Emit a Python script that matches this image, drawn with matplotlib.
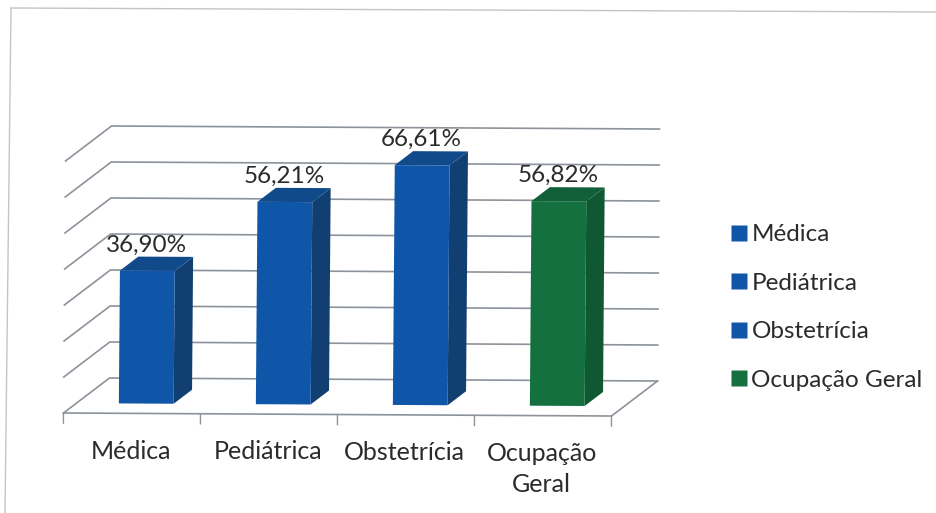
import numpy as np
import matplotlib
matplotlib.use('Agg')
import matplotlib.pyplot as plt
from matplotlib.patches import Polygon
from matplotlib.lines import Line2D

plt.rcParams['font.family'] = ['Lato', 'DejaVu Sans']

categories = ['Médica', 'Pediátrica', 'Obstetrícia', 'Ocupação\nGeral']
legend_labels = ['Médica', 'Pediátrica', 'Obstetrícia', 'Ocupação Geral']
values = [36.90, 56.21, 66.61, 56.82]
value_labels = ['36,90%', '56,21%', '66,61%', '56,82%']
grid_levels = [0, 10, 20, 30, 40, 50, 60, 70]

front_colors = ['#0f56a9', '#0f56a9', '#0f56a9', '#14713f']
side_colors = ['#123f72', '#123f72', '#123f72', '#0f5832']
top_colors = ['#114a8b', '#114a8b', '#114a8b', '#11603a']

grid_color = '#8c939b'
text_color = '#2b2b2b'

# taille des unites en pixels
x_orig = 63.5
px_x = 137.0
px_y = 3.6
depth_x = 46 / px_x
depth_y = 35 / px_y


def proj(x, y, z=0.0):
    # projection oblique + legere rotation du scan
    xp = x + z * depth_x + 0.008 * y * px_y / px_x
    yp = y + z * depth_y - 0.0055 * x * px_x / px_y
    return xp, yp


fig = plt.figure(figsize=(9.37, 5.13), dpi=100)
ax = fig.add_axes([0, 0, 1, 1])
ax.set_xlim(-x_orig / px_x, (937 - x_orig) / px_x)
ax.set_ylim(-100 / px_y, 413 / px_y)
ax.axis('off')

# cadre du graphique
ax.plot([11 / 937, 1.0], [1 - 8 / 513, 1 - 12 / 513], transform=ax.transAxes, color='#c4c4c4', lw=1.0)
ax.plot([11 / 937, 5 / 937], [1 - 8 / 513, 0.0], transform=ax.transAxes, color='#c4c4c4', lw=1.0)

# grille
for lvl in grid_levels:
    pts = [proj(0, lvl, 0), proj(0, lvl, 1), proj(4, lvl, 1)]
    ax.plot(*zip(*pts), color=grid_color, lw=1.2, zorder=1)
floor = [proj(0, 0, 0), proj(4, 0, 0), proj(4, 0, 1)]
ax.plot(*zip(*floor), color=grid_color, lw=1.2, zorder=1)

# graduations
for i in range(5):
    a = proj(i, 0, 0)
    b = proj(i, -2.8, 0)
    ax.plot([a[0], b[0]], [a[1], b[1]], color=grid_color, lw=1.0, zorder=1)

# barres 3D
z0, z1 = 0.28, 0.68
for i, v in enumerate(values):
    x0, x1 = i + 0.31, i + 0.71
    front = [proj(x0, 0, z0), proj(x1, 0, z0), proj(x1, v, z0), proj(x0, v, z0)]
    side = [proj(x1, 0, z0), proj(x1, 0, z1), proj(x1, v, z1), proj(x1, v, z0)]
    top = [proj(x0, v, z0), proj(x1, v, z0), proj(x1, v, z1), proj(x0, v, z1)]
    ax.add_patch(Polygon(side, closed=True, fc=side_colors[i], ec='none', zorder=3))
    ax.add_patch(Polygon(top, closed=True, fc=top_colors[i], ec='none', zorder=3))
    ax.add_patch(Polygon(front, closed=True, fc=front_colors[i], ec='none', zorder=4))
    tx, ty = proj(i + 0.5, v, z1)
    ax.text(tx - 0.13, ty + 0.3, value_labels[i], ha='center', va='bottom',
            fontsize=17.5, color=text_color, zorder=5)
    lx, ly = proj(i + 0.5, 0, 0)
    ax.text(lx - 0.01, ly - 7.3, categories[i], ha='center', va='top', fontsize=18,
            color=text_color, linespacing=1.4)

handles = [Line2D([], [], ls='none', marker='s', ms=11, mfc=c, mec='none') for c in front_colors]
ax.legend(handles, legend_labels, loc='center left', bbox_to_anchor=(732 / 937, 1 - 307.5 / 513),
          frameon=False, fontsize=17.5, handlelength=0.6, handletextpad=0.2,
          labelspacing=1.135, borderpad=0, borderaxespad=0, labelcolor=text_color)

fig.savefig('out.png', dpi=100)
